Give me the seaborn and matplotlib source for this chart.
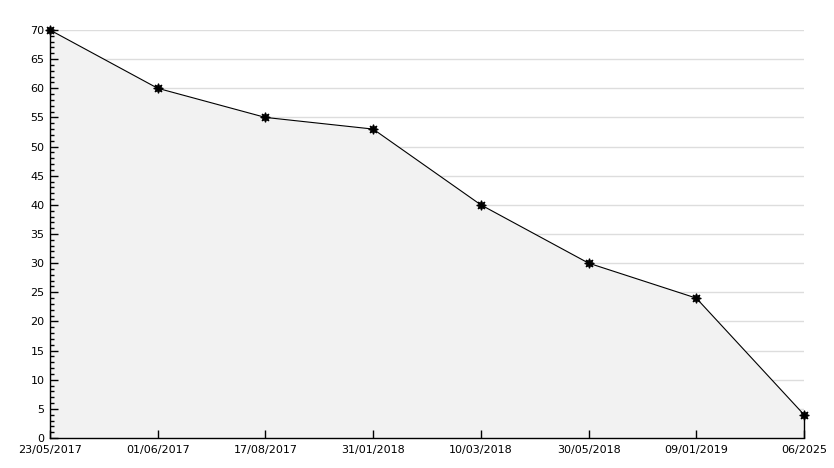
import numpy as np
import pandas as pd
import matplotlib
matplotlib.use("Agg")
import matplotlib.pyplot as plt
import seaborn as sns
from matplotlib.ticker import MultipleLocator

# chart data
dates = ["23/05/2017", "01/06/2017", "17/08/2017", "31/01/2018",
         "10/03/2018", "30/05/2018", "09/01/2019", "06/2025"]
values = [70, 60, 55, 53, 40, 30, 24, 4]

df = pd.DataFrame({"pos": np.arange(len(dates)), "value": values})

sns.set_style("white")
plt.rcParams["font.family"] = ["DejaVu Sans"]

fig = plt.figure(figsize=(8.34, 4.68), dpi=100)
ax = fig.add_axes([50 / 834, 1 - 438 / 468, 754 / 834, 408 / 468])

ax.set_xlim(0, len(dates) - 1)
ax.set_ylim(0, 70)

# grid lines sit behind the filled area
for y in range(5, 71, 5):
    ax.axhline(y, color="#dddddd", linewidth=1, zorder=0.5)

ax.fill_between(df["pos"], df["value"], 0, color="#f2f2f2", linewidth=0, zorder=1)
ax.vlines(df["pos"].iloc[-1], 0, df["value"].iloc[-1], color="black",
          linewidth=1, zorder=3, clip_on=False)
sns.lineplot(data=df, x="pos", y="value", color="black", linewidth=0.8,
             marker=(8, 1, 0), markersize=7, markeredgecolor="black",
             markeredgewidth=0.8, ax=ax, zorder=4, clip_on=False)

ax.yaxis.set_major_locator(MultipleLocator(5))
ax.yaxis.set_minor_locator(MultipleLocator(1))
ax.set_xticks(df["pos"])
ax.set_xticklabels(dates)
ax.set_axisbelow(False)

for side in ["top", "right"]:
    ax.spines[side].set_visible(False)
for side in ["left", "bottom"]:
    ax.spines[side].set_color("black")
    ax.spines[side].set_linewidth(1)

ax.tick_params(axis="y", which="major", direction="in", length=6, width=1,
               labelsize=8, pad=4, left=True, color="black", labelcolor="black")
ax.tick_params(axis="y", which="minor", direction="in", length=3, width=1,
               left=True, color="black")
ax.tick_params(axis="x", which="major", direction="in", length=6, width=1,
               labelsize=8, pad=5, bottom=True, color="black", labelcolor="black")
ax.set_xlabel("")
ax.set_ylabel("")

fig.savefig("out.png", dpi=100, facecolor="white")
